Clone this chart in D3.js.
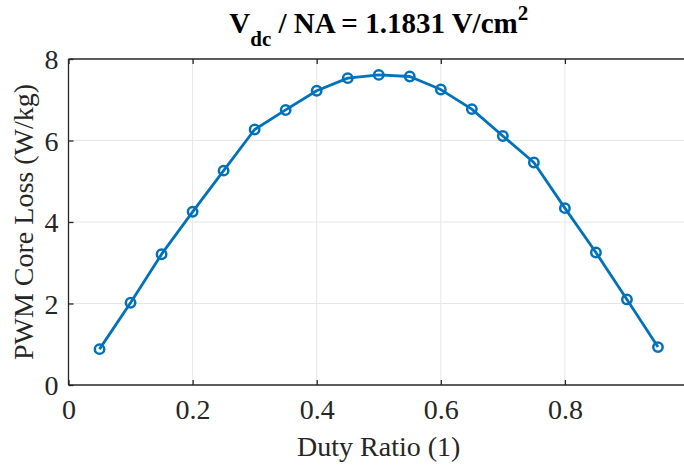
<!DOCTYPE html>
<html><head><meta charset="utf-8">
<script src="https://cdn.jsdelivr.net/npm/d3@7"></script>
<style>body{margin:0;background:#fff;} text{font-family:"Liberation Serif","Times New Roman",serif;}</style>
</head><body>
<svg id="c" width="684" height="465"></svg>
<script>
const dutyRatio = [0.05,0.10,0.15,0.20,0.25,0.30,0.35,0.40,0.45,0.50,0.55,0.60,0.65,0.70,0.75,0.80,0.85,0.90,0.95];
const coreLoss  = [0.88,2.02,3.21,4.25,5.26,6.27,6.75,7.22,7.53,7.61,7.57,7.25,6.77,6.11,5.46,4.34,3.25,2.10,0.93];
const xTicks = [0,0.2,0.4,0.6,0.8,1];
const xTickLabels = ["0","0.2","0.4","0.6","0.8",""];
const yTicks = [0,2,4,6,8];
const yTickLabels = ["0","2","4","6","8"];

const svg = d3.select("#c");
const m = {l:68.5, r:689, t:59, b:385};
const x = d3.scaleLinear().domain([0,1]).range([m.l, m.r]);
const y = d3.scaleLinear().domain([0,8]).range([m.b, m.t]);
const axisColor = "#262626";

// grid
const g = svg.append("g");
g.selectAll(".gx").data(xTicks.slice(1,-1)).join("line")
  .attr("x1",d=>x(d)).attr("x2",d=>x(d)).attr("y1",m.t).attr("y2",m.b)
  .attr("stroke","#e6e6e6").attr("stroke-width",1);
g.selectAll(".gy").data(yTicks.slice(1,-1)).join("line")
  .attr("y1",d=>y(d)).attr("y2",d=>y(d)).attr("x1",m.l).attr("x2",m.r)
  .attr("stroke","#e6e6e6").attr("stroke-width",1);

// axes via d3 axis (inward ticks)
const xAxis = svg.append("g").attr("transform",`translate(0,${m.b})`)
  .call(d3.axisBottom(x).tickValues(xTicks).tickSize(-5).tickPadding(14).tickFormat(d=>xTickLabels[xTicks.indexOf(d)]));
const yAxis = svg.append("g").attr("transform",`translate(${m.l},0)`)
  .call(d3.axisLeft(y).tickValues(yTicks).tickSize(-5).tickPadding(10).tickFormat(d=>yTickLabels[yTicks.indexOf(d)]));
const xTop = svg.append("g").attr("transform",`translate(0,${m.t})`)
  .call(d3.axisTop(x).tickValues(xTicks).tickSize(-5).tickFormat(""));
const yRight = svg.append("g").attr("transform",`translate(${m.r},0)`)
  .call(d3.axisRight(y).tickValues(yTicks).tickSize(-5).tickFormat(""));
[xAxis,yAxis,xTop,yRight].forEach(a=>{
  a.select(".domain").attr("stroke",axisColor).attr("stroke-width",1.3);
  a.selectAll(".tick line").attr("stroke",axisColor).attr("stroke-width",1.3);
  a.selectAll(".tick text").attr("fill","#262626").attr("font-size",28).attr("font-family","Liberation Serif");
});
xAxis.select(".domain").attr("d",`M${m.l},0H${m.r}`);
xTop.select(".domain").attr("d",`M${m.l},0H${m.r}`);
yAxis.select(".domain").attr("d",`M0,${y(0)}V${y(8)}`);
yRight.select(".domain").attr("d",`M0,${y(0)}V${y(8)}`);
yAxis.selectAll(".tick text").attr("dy","0.34em");

// series
const line = d3.line().x((d,i)=>x(dutyRatio[i])).y(d=>y(d));
svg.append("path").datum(coreLoss).attr("d",line)
  .attr("fill","none").attr("stroke","#0072BD").attr("stroke-width",2.8).attr("stroke-linejoin","round");
svg.selectAll(".pt").data(coreLoss).join("circle")
  .attr("cx",(d,i)=>x(dutyRatio[i])).attr("cy",d=>y(d)).attr("r",4.7)
  .attr("fill","none").attr("stroke","#0072BD").attr("stroke-width",2.5);

// labels
svg.append("text").attr("x",(m.l+m.r)/2).attr("y",456).attr("text-anchor","middle")
  .attr("font-size",28).attr("fill","#262626").text("Duty Ratio (1)");
svg.append("text").attr("transform",`translate(33,${(m.t+m.b)/2}) rotate(-90)`).attr("text-anchor","middle")
  .attr("font-size",28).attr("fill","#262626").text("PWM Core Loss (W/kg)");

// title
const t = svg.append("text").attr("x",(m.l+m.r)/2).attr("y",33).attr("text-anchor","middle")
  .attr("font-size",29).attr("font-weight","bold").attr("fill","#000");
t.append("tspan").text("V");
t.append("tspan").attr("font-size",21).attr("dy",13).text("dc");
t.append("tspan").attr("dy",-13).text(" / NA = 1.1831 V/cm");
t.append("tspan").attr("font-size",21).attr("dy",-13).text("2");
</script>
</body></html>
